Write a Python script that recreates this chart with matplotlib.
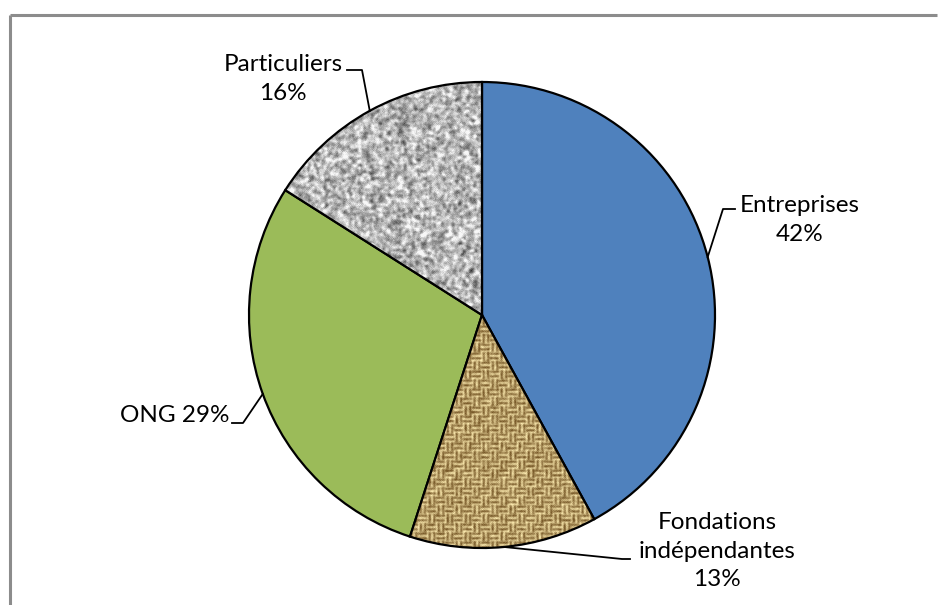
import numpy as np
import matplotlib
matplotlib.use("Agg")
import matplotlib.pyplot as plt

# Data
categories = ["Entreprises", "Fondations indépendantes", "ONG", "Particuliers"]
shares = [42, 13, 29, 16]
label_texts = ["Entreprises\n42%", "Fondations\nindépendantes\n13%", "ONG 29%", "Particuliers\n16%"]

W, H = 938, 605
cx, cy, r = 482, H - 315, 233

plt.rcParams['font.family'] = ['Lato', 'DejaVu Sans']

fig = plt.figure(figsize=(W / 100, H / 100), dpi=100)
ax = fig.add_axes([0, 0, 1, 1])

colors = ['#4F81BD', '#C8A86A', '#9BBB59', '#B8B8B8']
wedges, _ = ax.pie(shares, startangle=90, counterclock=False, center=(cx, cy),
                   radius=r, colors=colors, frame=True,
                   wedgeprops=dict(edgecolor='black', linewidth=1.6))


def blur(a, n=1):
    for _ in range(n):
        a = (a + np.roll(a, 1, 0) + np.roll(a, -1, 0) + np.roll(a, 1, 1) + np.roll(a, -1, 1)) / 5
    return a


N = 2 * r + 4
yy, xx = np.mgrid[0:N, 0:N]
rng = np.random.default_rng(7)

# burlap weave texture for "Fondations"
cell = 9
block = ((xx // cell) + (yy // cell)) % 2
v = np.where(block == 0, 0.5 + 0.5 * np.cos(2 * np.pi * yy / 4.5),
             0.5 + 0.5 * np.cos(2 * np.pi * xx / 4.5))
v = blur(v * 0.7 + rng.random((N, N)) * 0.5 + blur(rng.random((N, N)), 3) * 0.6, 1)
v = (v - v.min()) / (v.max() - v.min())
v = np.clip((v - 0.15) / 0.75, 0, 1)
dark = np.array([0.48, 0.36, 0.17])
light = np.array([0.98, 0.91, 0.68])
burlap = dark + (light - dark) * v[..., None]

# granite texture for "Particuliers"
g = blur(rng.random((N, N)), 4)
g = (g - g.mean()) / g.std()
g = np.clip(0.72 + 0.12 * g + 0.03 * rng.standard_normal((N, N)), 0.2, 0.97)
granite = np.dstack([g, g, g])

extent = [cx - N / 2, cx + N / 2, cy - N / 2, cy + N / 2]
for w, tex in [(wedges[1], burlap), (wedges[3], granite)]:
    im = ax.imshow(tex, extent=extent, origin='lower', interpolation='bilinear', zorder=1.5)
    im.set_clip_path(w)
    w.set_zorder(2)
    w.set_facecolor('none')

# labels and leader lines, anchored at each wedge's mid-angle on the rim
text_pos = [(800, H - 220, 'center'), (717, H - 551, 'center'),
            (229, H - 415, 'right'), (283, H - 79, 'center')]
elbows = [[(723, H - 209), (735, H - 209)],
          [(622, H - 559), (630, H - 559)],
          [(243, H - 423), (232, H - 423)],
          [(362, H - 70), (347, H - 70)]]
for w, txt, (tx, ty, ha), el in zip(wedges, label_texts, text_pos, elbows):
    ang = np.deg2rad((w.theta1 + w.theta2) / 2)
    px, py = cx + r * np.cos(ang), cy + r * np.sin(ang)
    xs = [px] + [p[0] for p in el]
    ys = [py] + [p[1] for p in el]
    ax.plot(xs, ys, color='black', lw=1.3, zorder=3)
    ax.text(tx, ty, txt, ha=ha, va='center', multialignment='center',
            fontsize=17.5, linespacing=1.45, color='black')

# chart area border (top and left visible)
ax.plot([10, 937], [H - 15, H - 15], color='#8c8c8c', lw=2.2, solid_capstyle='butt')
ax.plot([10, 10], [H - 15, 0], color='#8c8c8c', lw=2.2, solid_capstyle='butt')

ax.set_xlim(0, W)
ax.set_ylim(0, H)
ax.set_aspect('auto')
ax.set_axis_off()

fig.savefig('out.png', dpi=100)
